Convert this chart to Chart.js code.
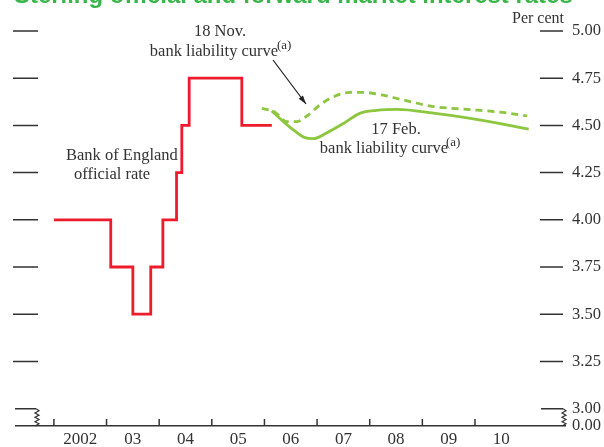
<!DOCTYPE html>
<html>
<head>
<meta charset="utf-8">
<script src="https://cdn.jsdelivr.net/npm/chart.js@4"></script>
<style>
  html, body { margin: 0; padding: 0; background: #fff; }
  #wrap { width: 604px; height: 447px; position: relative; }
</style>
</head>
<body>
<div id="wrap"><canvas id="chart"></canvas></div>
<script>
// Bank of England official rate (step changes, decimal years)
const officialDates = [2002.0, 2003.08, 2003.50, 2003.84, 2004.07, 2004.33, 2004.43, 2004.57, 2005.57, 2006.14];
const officialRate  = [4.00,   3.75,    3.50,    3.75,    4.00,    4.25,    4.50,    4.75,    4.50,    4.50];

// 18 Nov. bank liability curve
const novDates = [2005.95, 2006.20, 2006.42, 2006.61, 2006.83, 2007.06, 2007.30, 2007.63, 2007.87, 2008.25, 2008.63, 2009.21, 2009.85, 2010.48, 2010.99];
const novRates = [4.59,    4.57,    4.52,    4.52,    4.555,   4.61,    4.65,    4.675,   4.675,   4.66,    4.635,   4.60,    4.585,   4.57,    4.55];

// 17 Feb. bank liability curve
const febDates = [2006.14, 2006.36, 2006.55, 2006.77, 2006.93, 2007.18, 2007.50, 2007.82, 2008.13, 2008.52, 2009.21, 2009.85, 2010.48, 2011.02];
const febRates = [4.577,   4.52,    4.476,   4.435,   4.43,    4.46,    4.51,    4.565,   4.58,    4.585,   4.565,   4.54,    4.51,    4.48];

// axes
const tickYears  = [2002, 2003, 2004, 2005, 2006, 2007, 2008, 2009, 2010];
const yearLabels = ['2002', '03', '04', '05', '06', '07', '08', '09', '10'];
const yTicks = [3.00, 3.25, 3.50, 3.75, 4.00, 4.25, 4.50, 4.75, 5.00];
const yBreak = 2.908; // bottom of broken axis, labelled 0.00

const RED = '#ec1c2d';
const GREEN = '#8dc63f';
const INK = '#333333';
const SERIF = '"Liberation Serif", "DejaVu Serif", serif';

function toXY(xs, ys) {
  return xs.map((x, i) => ({ x: x, y: ys[i] }));
}

function zigzag(ctx, x, y1, y2) {
  const n = 4, h = (y2 - y1) / (n * 2);
  ctx.beginPath();
  ctx.moveTo(x, y1);
  for (let i = 1; i <= n * 2; i++) {
    ctx.lineTo(x + (i % 2 ? 3 : -1), y1 + h * i);
  }
  ctx.stroke();
}

// axis decorations: tick dashes, inward year ticks, break marks
const decorPlugin = {
  id: 'decor',
  afterDraw(chart) {
    const { ctx, chartArea: a } = chart;
    const xs = chart.scales.x, ys = chart.scales.y;
    ctx.save();
    ctx.strokeStyle = INK;
    ctx.lineWidth = 1.5;

    yTicks.forEach(v => {
      const py = ys.getPixelForValue(v);
      ctx.beginPath();
      if (v === 3.00) {
        ctx.moveTo(a.left - 1, py); ctx.lineTo(a.left + 20, py);
        ctx.moveTo(a.right - 24, py); ctx.lineTo(a.right - 2, py);
      } else {
        ctx.moveTo(a.left - 3, py); ctx.lineTo(a.left + 22, py);
        ctx.moveTo(a.right - 25, py); ctx.lineTo(a.right - 2, py);
      }
      ctx.stroke();
    });

    ctx.lineWidth = 1.2;
    const y3 = ys.getPixelForValue(3.00);
    zigzag(ctx, a.left + 20, y3, a.bottom);
    zigzag(ctx, a.right - 2, y3, a.bottom);

    ctx.lineWidth = 1.5;
    tickYears.forEach(yr => {
      const px = xs.getPixelForValue(yr);
      ctx.beginPath();
      ctx.moveTo(px, a.bottom);
      ctx.lineTo(px, a.bottom - 7);
      ctx.stroke();
    });

    // title (cropped at top)
    ctx.fillStyle = '#39b54a';
    ctx.textBaseline = 'alphabetic';
    ctx.textAlign = 'left';
    const title = 'Sterling official and forward market interest rates';
    ctx.font = 'bold 20px "Liberation Sans", Arial, sans-serif';
    const w = ctx.measureText(title).width;
    const fs = 20 * 559 / w;
    ctx.font = 'bold ' + fs.toFixed(2) + 'px "Liberation Sans", Arial, sans-serif';
    ctx.fillText(title, 14, 3);

    // annotations
    ctx.fillStyle = INK;
    ctx.font = '16px ' + SERIF;
    ctx.textAlign = 'right';
    ctx.fillText('Per cent', 564, 23);

    ctx.font = '16.5px ' + SERIF;
    ctx.textAlign = 'left';
    ctx.fillText('Bank of England', 66, 160);
    ctx.fillText('official rate', 74, 179);

    ctx.textAlign = 'center';
    ctx.fillText('18 Nov.', 220, 36);
    ctx.fillText('bank liability curve', 214, 56);
    ctx.fillText('17 Feb.', 396, 134);
    ctx.fillText('bank liability curve', 384, 153);
    ctx.font = '13px ' + SERIF;
    ctx.textAlign = 'left';
    ctx.fillText('(a)', 277, 49);
    ctx.fillText('(a)', 446, 146);

    // arrow to 18 Nov. curve
    ctx.strokeStyle = '#222';
    ctx.fillStyle = '#222';
    ctx.lineWidth = 1.2;
    const x0 = 273, y0 = 60, x1 = 306, y1 = 104;
    ctx.beginPath();
    ctx.moveTo(x0, y0); ctx.lineTo(x1, y1);
    ctx.stroke();
    const ang = Math.atan2(y1 - y0, x1 - x0);
    ctx.beginPath();
    ctx.moveTo(x1, y1);
    ctx.lineTo(x1 - 9 * Math.cos(ang - 0.3), y1 - 9 * Math.sin(ang - 0.3));
    ctx.lineTo(x1 - 9 * Math.cos(ang + 0.3), y1 - 9 * Math.sin(ang + 0.3));
    ctx.closePath();
    ctx.fill();
    ctx.restore();
  }
};

new Chart(document.getElementById('chart'), {
  type: 'line',
  data: {
    datasets: [
      {
        label: 'Bank of England official rate',
        data: toXY(officialDates, officialRate),
        borderColor: RED,
        borderWidth: 2.8,
        stepped: 'before',
        pointRadius: 0
      },
      {
        label: '18 Nov. bank liability curve',
        data: toXY(novDates, novRates),
        borderColor: GREEN,
        borderWidth: 2.8,
        borderDash: [7, 5],
        cubicInterpolationMode: 'monotone',
        pointRadius: 0
      },
      {
        label: '17 Feb. bank liability curve',
        data: toXY(febDates, febRates),
        borderColor: GREEN,
        borderWidth: 2.8,
        cubicInterpolationMode: 'monotone',
        pointRadius: 0
      }
    ]
  },
  options: {
    responsive: true,
    maintainAspectRatio: false,
    animation: false,
    layout: { padding: { left: 16, top: 31, right: 0, bottom: 0 } },
    plugins: {
      legend: { display: false },
      tooltip: { enabled: false }
    },
    scales: {
      x: {
        type: 'linear',
        min: 2001.28,
        max: 2011.71,
        grid: { display: false, drawTicks: false },
        border: { display: true, color: INK, width: 1.5 },
        afterBuildTicks: s => { s.ticks = tickYears.map(y => ({ value: y + 0.5 })); },
        afterFit: s => { s.height = 21; },
        ticks: {
          autoSkip: false,
          maxRotation: 0,
          padding: 3,
          color: INK,
          font: { family: SERIF, size: 17 },
          callback: v => yearLabels[tickYears.indexOf(Math.round(v - 0.5))]
        }
      },
      y: {
        position: 'right',
        min: yBreak,
        max: 5.0,
        grid: { display: false, drawTicks: false },
        border: { display: false },
        afterBuildTicks: s => { s.ticks = [yBreak].concat(yTicks).map(v => ({ value: v })); },
        afterFit: s => { s.width = 39; },
        ticks: {
          autoSkip: false,
          padding: 7,
          color: INK,
          font: { family: SERIF, size: 16.5 },
          callback: v => v === yBreak ? '0.00' : v.toFixed(2)
        }
      }
    }
  },
  plugins: [decorPlugin]
});
</script>
</body>
</html>
